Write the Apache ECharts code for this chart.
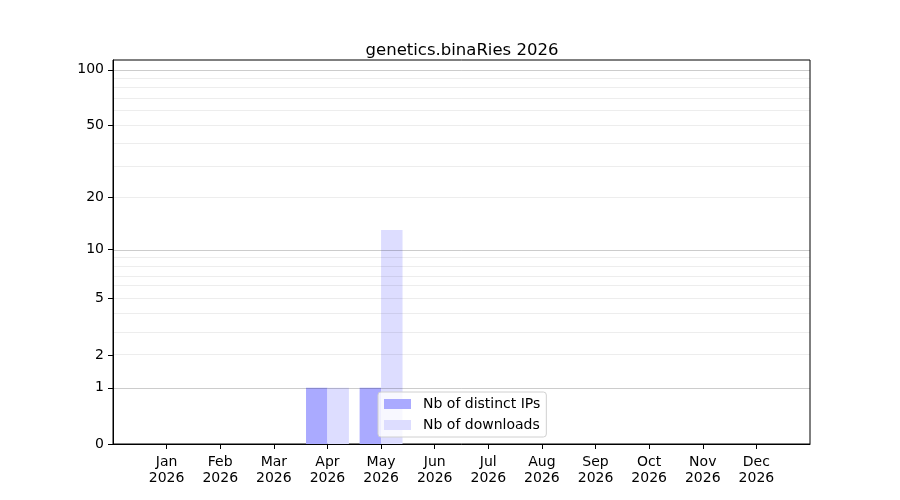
<!DOCTYPE html>
<html>
<head>
<meta charset="utf-8">
<script src="https://cdn.jsdelivr.net/npm/echarts@6/dist/echarts.min.js"></script>
<style>
  html, body { margin: 0; padding: 0; background: #fff; }
  #chart { width: 900px; height: 500px; }
</style>
</head>
<body>
<div id="chart"></div>
<script>
// monthly figures
var months = ['Jan', 'Feb', 'Mar', 'Apr', 'May', 'Jun', 'Jul', 'Aug', 'Sep', 'Oct', 'Nov', 'Dec'];
var year = '2026';
var distinctIps = [0, 0, 0, 1, 1, 0, 0, 0, 0, 0, 0, 0];
var downloads = [0, 0, 0, 1, 13, 0, 0, 0, 0, 0, 0, 0];

// y axis ticks (axis is log10(1 + n))
var yTicks = [0, 1, 2, 5, 10, 20, 50, 100];
var majorGrid = [1, 10, 100];
var minorGrid = [2, 3, 4, 5, 6, 7, 8, 9, 20, 30, 40, 50, 60, 70, 80, 90];
var yTop = 113;

function tf(v) { return Math.log10(1 + v); }

var font = 'DejaVu Sans';
var cats = [''].concat(months.map(function (m) { return m + '\n' + year; }), ['']);

function wrap(arr) {
        return [null].concat(arr.map(function (v) { return v > 0 ? tf(v) : null; }), [null]);
}

function gridLines(list) {
        return list.map(function (v) { return { yAxis: tf(v) }; });
}

var myChart = echarts.init(document.getElementById('chart'));

var option = {
        animation: false,
        title: {
                text: 'genetics.binaRies 2026',
                left: 457,
                top: 37,
                textAlign: 'center',
                textStyle: { fontFamily: font, fontSize: 16.5, fontWeight: 'normal', color: '#000' }
        },
        legend: {
                orient: 'vertical',
                left: 378,
                top: 392,
                padding: [5, 6, 5, 6],
                itemWidth: 27,
                itemHeight: 10,
                itemGap: 7,
                icon: 'rect',
                backgroundColor: 'rgba(255,255,255,0.8)',
                borderColor: '#d0d0d0',
                borderWidth: 1,
                borderRadius: 3,
                textStyle: { fontFamily: font, fontSize: 14, color: '#000', padding: [0, 0, 0, 7] },
                data: ['Nb of distinct IPs', 'Nb of downloads']
        },
        grid: {
                left: 113,
                right: 90,
                top: 60,
                bottom: 56,
                show: true,
                borderColor: '#000',
                borderWidth: 1
        },
        xAxis: {
                type: 'category',
                boundaryGap: false,
                data: cats,
                axisLine: { show: true, lineStyle: { color: '#000', width: 1 } },
                axisTick: {
                        show: true,
                        length: 5,
                        interval: function (i) { return i > 0 && i < cats.length - 1; },
                        lineStyle: { color: '#000' }
                },
                axisLabel: {
                        interval: 0,
                        margin: 10,
                        fontFamily: font,
                        fontSize: 14,
                        lineHeight: 16,
                        color: '#000'
                },
                splitLine: { show: false }
        },
        yAxis: {
                type: 'value',
                min: 0,
                max: tf(yTop),
                axisLine: { show: true, lineStyle: { color: '#000', width: 1 } },
                axisTick: {
                        show: true,
                        length: 5,
                        customValues: yTicks.map(tf),
                        lineStyle: { color: '#000' }
                },
                axisLabel: {
                        customValues: yTicks.map(tf),
                        margin: 9,
                        fontFamily: font,
                        fontSize: 14,
                        color: '#000',
                        formatter: function (v) { return String(Math.round(Math.pow(10, v) - 1)); }
                },
                splitLine: { show: false }
        },
        series: [
                {
                        name: 'Nb of distinct IPs',
                        type: 'bar',
                        data: wrap(distinctIps),
                        barGap: '0%',
                        barCategoryGap: '20%',
                        itemStyle: { color: '#aaaaff' },
                        markLine: {
                                silent: true,
                                symbol: 'none',
                                label: { show: false },
                                lineStyle: { color: 'rgba(0,0,0,0.2)', type: 'solid', width: 1 },
                                data: gridLines(majorGrid)
                        }
                },
                {
                        name: 'Nb of downloads',
                        type: 'bar',
                        data: wrap(downloads),
                        barGap: '0%',
                        barCategoryGap: '20%',
                        itemStyle: { color: '#ddddff' },
                        markLine: {
                                silent: true,
                                symbol: 'none',
                                label: { show: false },
                                lineStyle: { color: 'rgba(0,0,0,0.07)', type: 'solid', width: 1 },
                                data: gridLines(minorGrid)
                        }
                }
        ]
};
myChart.setOption(option);
</script>
</body>
</html>
